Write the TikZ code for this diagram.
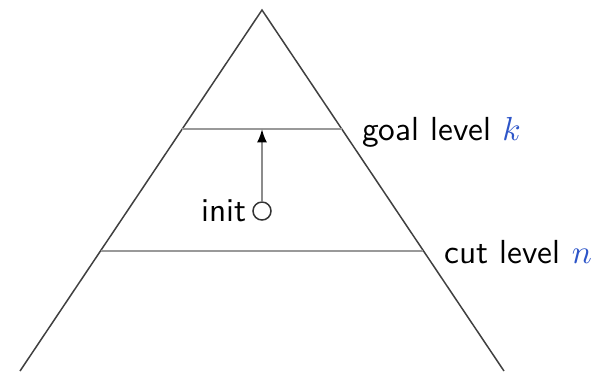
\documentclass[tikz,border=0pt]{standalone}
\usepackage{amsmath}
\usepackage{tikz}
\usetikzlibrary{calc,positioning,arrows.meta}
\definecolor{lvlblue}{RGB}{45,85,200}
\tikzset{
  side/.style={draw=black!75,line width=0.45pt},
  level/.style={draw=black!40,line width=0.7pt},
  lbl/.style={font=\sffamily,inner sep=0pt}
}
\begin{document}
\begin{tikzpicture}[x=0.3pt,y=-0.3pt]
        \useasboundingbox (0,0) rectangle (598,371);
        \coordinate (top) at (262,10); \coordinate (bl) at (20,371); \coordinate (br) at (504,371);
        \draw[side] (bl)--(top)--(br);
        \coordinate (gl) at ($(top)!0.33!(bl)$); \coordinate (gr) at ($(top)!0.33!(br)$);
        \coordinate (cl) at ($(top)!0.667!(bl)$); \coordinate (cr) at ($(top)!0.667!(br)$);
        \draw[level] (gl)--(gr) node[lbl,right=19 of gr,yshift=-1pt]{goal level $\color{lvlblue}k$};
        \draw[level] (cl)--(cr) node[lbl,right=20 of cr,yshift=-0.5pt]{cut level $\color{lvlblue}n$};
        \node[circle,draw=black!80,line width=0.45pt,inner sep=0pt,minimum size=5.4pt] (init) at (262,211) {};
        \node[lbl,left=5 of init] (initlbl) {init};
        \draw[-{Latex[black,length=4pt,width=3pt]},draw=black!45,line width=0.5pt] (init)--(init |- gl);
    \end{tikzpicture}
\end{document}
